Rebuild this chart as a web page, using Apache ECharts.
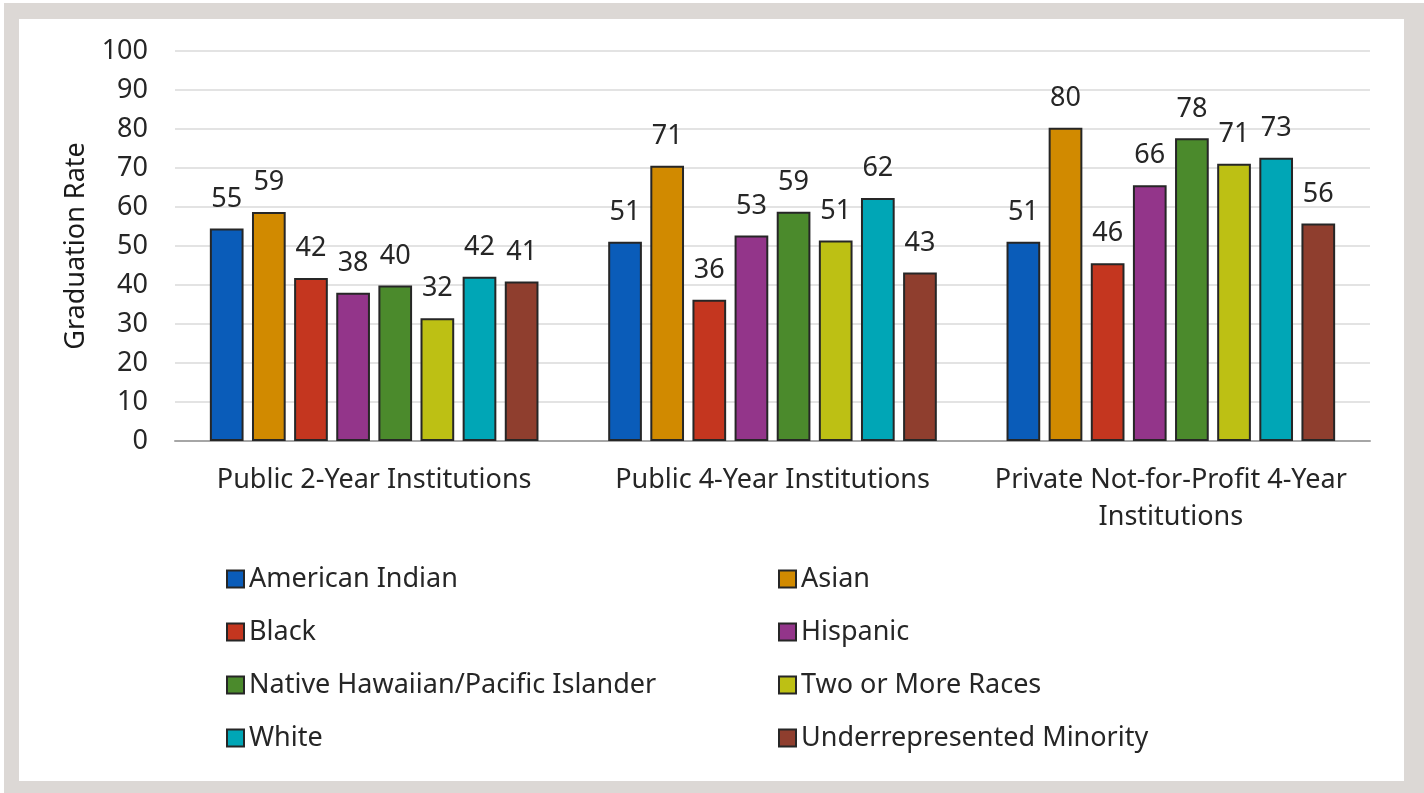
<!DOCTYPE html>
<html><head><meta charset="utf-8">
<script src="https://cdn.jsdelivr.net/npm/echarts@6/dist/echarts.min.js"></script>
<style>
html,body{margin:0;padding:0;background:#fff;width:1424px;height:793px;overflow:hidden}
#frame{position:absolute;left:4px;top:3px;width:1420px;height:790px;background:#dcd8d5}
#chart{position:absolute;left:19px;top:19px;width:1385px;height:762px;background:#fff}
</style></head><body>
<div id="frame"></div>
<div id="chart"></div>
<script>
const categories = ['Public 2-Year Institutions', 'Public 4-Year Institutions', 'Private Not-for-Profit 4-Year\nInstitutions'];
const americanIndian = [54.5, 51.1, 51.1];
const asian = [58.7, 70.6, 80.3];
const black = [41.8, 36.2, 45.6];
const hispanic = [38.0, 52.7, 65.6];
const nativeHawaiian = [39.9, 58.8, 77.6];
const twoOrMore = [31.5, 51.4, 71.1];
const white = [42.1, 62.3, 72.6];
const urm = [40.9, 43.2, 55.8];
const yTicks = [0, 10, 20, 30, 40, 50, 60, 70, 80, 90, 100];

const seriesDefs = [
  ['American Indian', americanIndian, '#0a5cb9'],
  ['Asian', asian, '#d18a00'],
  ['Black', black, '#c4361f'],
  ['Hispanic', hispanic, '#93358a'],
  ['Native Hawaiian/Pacific Islander', nativeHawaiian, '#4b8a2c'],
  ['Two or More Races', twoOrMore, '#bdc014'],
  ['White', white, '#00a6b6'],
  ['Underrepresented Minority', urm, '#8f3e2e']
];
const font = 'Noto Sans';
const txt = '#262626';
const fs = 27;
const chart = echarts.init(document.getElementById('chart'));
chart.setOption({
  animation: false,
  textStyle: {fontFamily: font},
  grid: {left: 156, right: 34, top: 32, bottom: 340, containLabel: false},
  xAxis: {
    type: 'category', data: categories,
    axisLine: {lineStyle: {color: '#a6a6a6', width: 2}},
    axisTick: {show: false},
    axisLabel: {interval: 0, color: txt, fontSize: fs, fontFamily: font, margin: 21, lineHeight: 37}
  },
  yAxis: {
    type: 'value', min: yTicks[0], max: yTicks[yTicks.length - 1], interval: 10,
    name: 'Graduation Rate', nameLocation: 'middle', nameRotate: 90, nameGap: 85,
    nameTextStyle: {color: '#1a1a1a', fontSize: 27, fontFamily: font},
    axisLine: {show: false}, axisTick: {show: false},
    axisLabel: {color: txt, fontSize: fs, fontFamily: font, margin: 27},
    splitLine: {lineStyle: {color: '#dadada', width: 1.5}}
  },
  legend: [
    {orient: 'vertical', left: 202, top: 540, itemWidth: 17, itemHeight: 17, itemGap: 23, icon: 'rect',
     data: ['American Indian', 'Black', 'Native Hawaiian/Pacific Islander', 'White'],
     textStyle: {color: txt, fontSize: fs, fontFamily: font, lineHeight: 30}},
    {orient: 'vertical', left: 754, top: 540, itemWidth: 17, itemHeight: 17, itemGap: 23, icon: 'rect',
     data: ['Asian', 'Hispanic', 'Two or More Races', 'Underrepresented Minority'],
     textStyle: {color: txt, fontSize: fs, fontFamily: font, lineHeight: 30}}
  ],
  series: seriesDefs.map(([name, vals, color]) => ({
    name, type: 'bar', data: vals,
    barCategoryGap: '17.5%', barGap: '25%',
    itemStyle: {color, borderColor: '#262626', borderWidth: 2},
    label: {show: true, position: 'top', distance: 16, color: txt, fontSize: fs, fontFamily: font,
            formatter: p => Math.round(p.value)}
  }))
});
</script></body></html>
